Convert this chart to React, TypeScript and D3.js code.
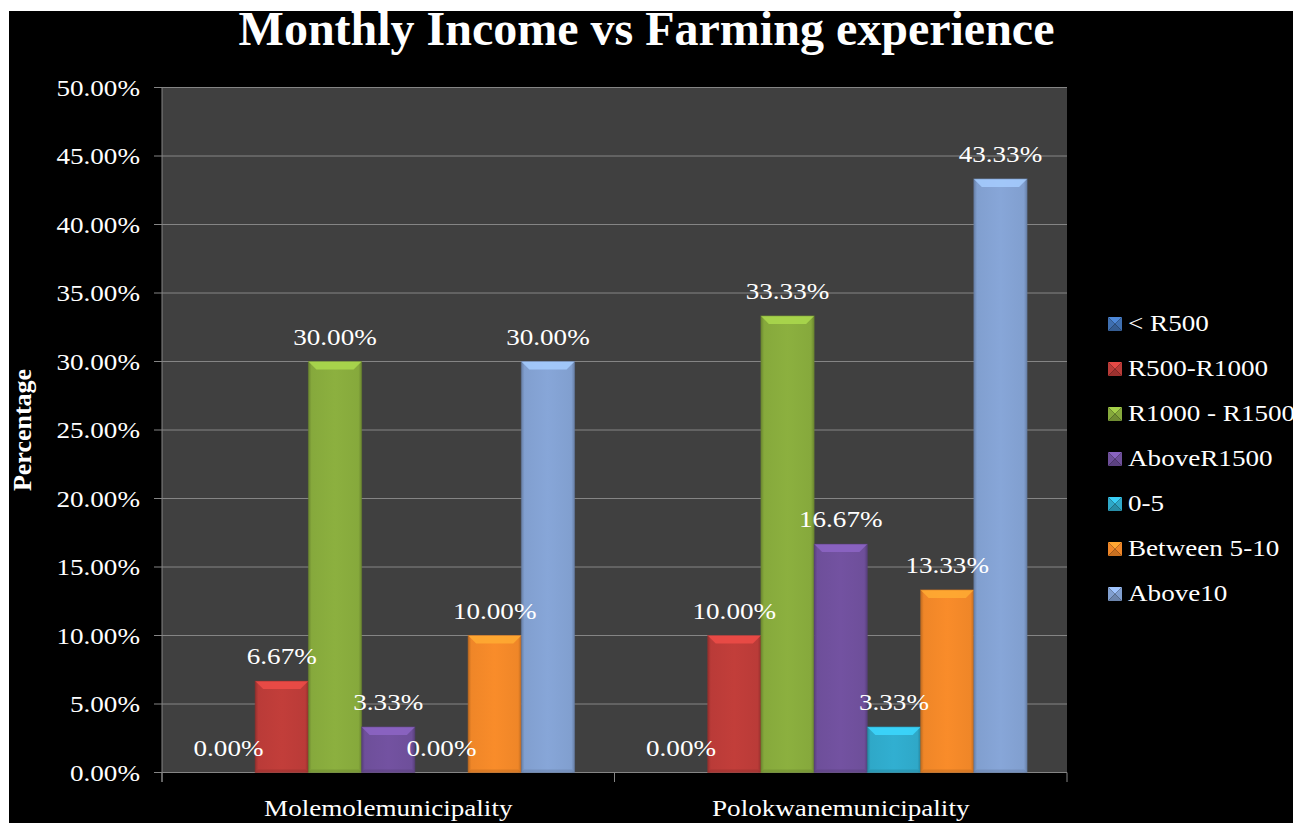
import React from "react";
import * as d3 from "d3";

const categories = ["Molemolemunicipality", "Polokwanemunicipality"];
const seriesNames = ["< R500", "R500-R1000", "R1000 - R1500", "AboveR1500", "0-5", "Between 5-10", "Above10"];
const molemoleValues = [0, 6.67, 30.0, 3.33, 0, 10.0, 30.0];
const polokwaneValues = [0, 10.0, 33.33, 16.67, 3.33, 13.33, 43.33];
const yTickValues = [0, 5, 10, 15, 20, 25, 30, 35, 40, 45, 50];
const seriesColors = ["#3F6FB0", "#BA3B38", "#86A93C", "#6E4F9A", "#2FA8C8", "#EF8628", "#819FCF"];

const valuesByCategory = [molemoleValues, polokwaneValues];

const W = 1305;
const H = 823;
const plot = { left: 162, right: 1067, top: 87.5, bottom: 772.5 };
const FONT = "'Liberation Serif', 'Times New Roman', serif";
const SX = 1.13;

function T(props: any) {
  const { x, y, anchor = "start", size = 24, bold = false, sx = SX, fill = "#fff", children } = props;
  return (
    <text
      transform={`translate(${x},${y}) scale(${sx},1)`}
      textAnchor={anchor}
      fontFamily={FONT}
      fontSize={size}
      fontWeight={bold ? "bold" : "normal"}
      fill={fill}
    >
      {children}
    </text>
  );
}

function Bar({ x, y, w, h, color, id }: any) {
  if (h <= 0.5) return null;
  const c = d3.color(color)!;
  const dark = c.darker(0.6).formatHex();
  const light = c.brighter(0.7).formatHex();
  const mid = c.brighter(0.12).formatHex();
  const b = Math.min(8, h / 2);
  return (
    <g>
      <defs>
        <linearGradient id={id} x1="0" x2="1" y1="0" y2="0">
          <stop offset="0" stopColor={dark} />
          <stop offset="0.06" stopColor={color} />
          <stop offset="0.5" stopColor={mid} />
          <stop offset="0.94" stopColor={color} />
          <stop offset="1" stopColor={dark} />
        </linearGradient>
      </defs>
      <rect x={x} y={y} width={w} height={h} fill={`url(#${id})`} />
      <polygon
        points={`${x},${y} ${x + w},${y} ${x + w - b},${y + b} ${x + b},${y + b}`}
        fill={light}
        opacity={0.85}
      />
      <polygon
        points={`${x},${y + h} ${x + w},${y + h} ${x + w - 3},${y + h - 3} ${x + 3},${y + h - 3}`}
        fill={dark}
        opacity={0.5}
      />
      <rect x={x} y={y} width={w} height={h} fill="none" stroke={dark} strokeOpacity={0.5} strokeWidth={1} />
    </g>
  );
}

function Swatch({ x, y, s, color }: any) {
  const c = d3.color(color)!;
  const light = c.brighter(0.6).formatHex();
  const dark = c.darker(0.5).formatHex();
  const cx = x + s / 2;
  const cy = y + s / 2;
  return (
    <g>
      <polygon points={`${x},${y} ${x + s},${y} ${cx},${cy}`} fill={light} />
      <polygon points={`${x},${y} ${cx},${cy} ${x},${y + s}`} fill={color} />
      <polygon points={`${x + s},${y} ${cx},${cy} ${x + s},${y + s}`} fill={color} />
      <polygon points={`${x},${y + s} ${cx},${cy} ${x + s},${y + s}`} fill={dark} />
    </g>
  );
}

export default function App() {
  const y = d3.scaleLinear().domain([0, 50]).range([plot.bottom, plot.top]);
  const x0 = d3.scaleBand<string>().domain(categories).range([plot.left, plot.right]).padding(0);
  const x1 = d3
    .scaleBand<string>()
    .domain(seriesNames)
    .range([0, x0.bandwidth()])
    .paddingInner(0)
    .paddingOuter(0.75);

  const fmt = (v: number) => v.toFixed(2) + "%";

  return (
    <svg width={W} height={H} style={{ position: "absolute", left: 0, top: 0 }}>
      <rect x={0} y={0} width={W} height={H} fill="#fff" />
      <rect x={9} y={11} width={1284} height={H - 11} fill="#000" />
      <rect x={plot.left} y={plot.top} width={plot.right - plot.left} height={plot.bottom - plot.top} fill="#404040" />

      {/* grid + y ticks */}
      {yTickValues.map((t) => (
        <g key={t}>
          <line x1={154} x2={plot.right} y1={y(t)} y2={y(t)} stroke="#858585" strokeWidth={1} />
          <T x={140} y={y(t) + 8} anchor="end">{fmt(t)}</T>
        </g>
      ))}
      <line x1={plot.left} x2={plot.left} y1={plot.top} y2={782} stroke="#858585" strokeWidth={1} />
      <line x1={plot.left} x2={plot.right} y1={plot.bottom} y2={plot.bottom} stroke="#858585" strokeWidth={1} />
      {[plot.left, x0(categories[1])!, plot.right].map((tx, i) => (
        <line key={i} x1={tx} x2={tx} y1={plot.bottom} y2={782} stroke="#858585" strokeWidth={1} />
      ))}

      {/* bars */}
      {categories.map((cat, ci) =>
        seriesNames.map((s, si) => {
          const v = valuesByCategory[ci][si];
          const bx = x0(cat)! + x1(s)!;
          const by = y(v);
          return (
            <Bar
              key={cat + s}
              id={`g${ci}_${si}`}
              x={bx}
              y={by}
              w={x1.bandwidth()}
              h={plot.bottom - by}
              color={seriesColors[si]}
            />
          );
        })
      )}

      {/* data labels */}
      {categories.map((cat, ci) =>
        seriesNames.map((s, si) => {
          const v = valuesByCategory[ci][si];
          const cx = x0(cat)! + x1(s)! + x1.bandwidth() / 2;
          return (
            <T key={"l" + cat + s} x={cx} y={y(v) - 17} anchor="middle">
              {fmt(v)}
            </T>
          );
        })
      )}

      {/* x labels */}
      {categories.map((cat) => (
        <T key={"x" + cat} x={x0(cat)! + x0.bandwidth() / 2} y={816} anchor="middle">
          {cat}
        </T>
      ))}

      {/* title */}
      <T x={646.5} y={45} anchor="middle" size={48} bold sx={1}>
        Monthly Income vs Farming experience
      </T>

      {/* y title */}
      <text
        transform="translate(31,430) rotate(-90)"
        textAnchor="middle"
        fontFamily={FONT}
        fontSize={26}
        fontWeight="bold"
        fill="#fff"
      >
        Percentage
      </text>

      {/* legend */}
      {seriesNames.map((s, i) => {
        const cy = 323 + i * 45;
        return (
          <g key={"lg" + s}>
            <Swatch x={1108} y={cy - 6} s={14} color={seriesColors[i]} />
            <T x={1128} y={cy + 8}>{s}</T>
          </g>
        );
      })}
    </svg>
  );
}
